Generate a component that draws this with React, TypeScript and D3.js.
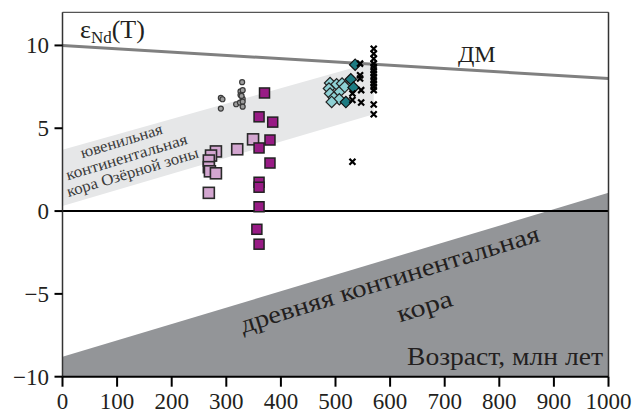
import React from "react";
import * as d3 from "d3";

// axis ranges and ticks
const xDomain = [0, 1000];
const yDomain = [-10, 12];
const xTicks = [0, 100, 200, 300, 400, 500, 600, 700, 800, 900, 1000];
const yTicks = [-10, -5, 0, 5, 10];

// reference fields
const dmLine = [[0, 10], [1000, 8]];
const ancientCrust = [[0, -8.8], [1000, 1.1]];
const juvenileTop = [[0, 3.7], [570, 9.0]];
const juvenileBottom = [[0, 0.3], [570, 5.85]];

// samples: [age, eNd]
const grayCircles = [
  [290, 6.83], [293, 6.75], [290, 6.19], [329, 7.78], [326, 7.22], [330, 7.3],
  [326, 7.0], [330, 6.77], [318, 6.45], [325, 6.55], [330, 6.6], [330, 6.3], [328, 6.95],
];
const purpleSquares = [
  [370, 7.13], [360, 5.69], [385, 5.37], [380, 4.29], [360, 3.81], [380, 2.9],
  [360, 1.74], [360, 1.44], [360, 0.26], [356, -1.1], [360, -2.0],
];
const pinkSquares = [
  [281, 3.6], [272, 3.35], [268, 3.05], [268, 2.65], [270, 2.4], [281, 2.28],
  [268, 1.1], [320, 3.73], [349, 4.33],
];
const lightDiamonds = [
  [490, 7.73], [488, 7.4], [502, 7.65], [512, 7.7], [507, 7.19], [490, 7.1],
  [497, 6.86], [507, 6.75], [493, 6.59], [517, 7.5],
];
const darkDiamonds = [[536, 8.84], [528, 7.96], [533, 7.46], [519, 6.58]];
const crosses = [
  [570, 9.8], [570, 9.5], [570, 9.2], [570, 8.9], [570, 8.7], [570, 8.5], [570, 8.3],
  [570, 8.1], [570, 7.9], [570, 7.7], [570, 7.5], [570, 7.3], [570, 6.43], [570, 5.85],
  [545, 8.9], [545, 8.2], [545, 8.0], [547, 7.3], [547, 6.55],
  [531, 7.1], [531, 6.7], [531, 2.98],
];

const serif = "'Liberation Serif', 'Times New Roman', serif";

const App = () => {
  const x = d3.scaleLinear().domain(xDomain).range([62.5, 608.5]);
  const y = d3.scaleLinear().domain(yDomain).range([376.7, 12.3]);
  const line = d3.line<number[]>().x(d => x(d[0])).y(d => y(d[1]));

  const crustPath =
    line(ancientCrust) +
    `L${x(xDomain[1])},${y(yDomain[0])}L${x(xDomain[0])},${y(yDomain[0])}Z`;
  const bandPath = line([...juvenileTop, ...juvenileBottom.slice().reverse()]) + "Z";

  const bandAngle = -16.9;
  const crustAngle = -17.2;

  return (
    <svg width={636} height={415} style={{ position: "absolute", left: 0, top: 0 }}>
      <rect width={636} height={415} fill="#fff" />
      <path d={crustPath} fill="#939598" />
      <path d={bandPath} fill="#e6e7e8" />

      <g fontFamily={serif} fill="#3a3a3a" fontSize={16}>
        <text transform={`translate(123,146) rotate(${bandAngle})`} textAnchor="middle" textLength={85} lengthAdjust="spacingAndGlyphs">ювенильная</text>
        <text transform={`translate(128,162) rotate(${bandAngle})`} textAnchor="middle" textLength={126} lengthAdjust="spacingAndGlyphs">континентальная</text>
        <text transform={`translate(134,177) rotate(${bandAngle})`} textAnchor="middle" textLength={137} lengthAdjust="spacingAndGlyphs">кора Озёрной зоны</text>
      </g>
      <g fontFamily={serif} fill="#231f20" fontSize={25}>
        <text transform={`translate(392,287) rotate(${crustAngle})`} textAnchor="middle" textLength={312} lengthAdjust="spacingAndGlyphs">древняя континентальная</text>
        <text transform={`translate(427,314) rotate(${crustAngle})`} textAnchor="middle" textLength={57} lengthAdjust="spacingAndGlyphs">кора</text>
        <text x={603} y={365} textAnchor="end" fontSize={25} textLength={196} lengthAdjust="spacingAndGlyphs">Возраст, млн лет</text>
      </g>

      <path d={line(dmLine) || ""} stroke="#808080" strokeWidth={3} fill="none" />
      <line x1={x(0)} x2={x(1000)} y1={y(0)} y2={y(0)} stroke="#000" strokeWidth={2} />

      {/* frame */}
      <line x1={x(0)} x2={x(1000)} y1={y(12)} y2={y(12)} stroke="#555" strokeWidth={1.2} />
      <line x1={x(1000)} x2={x(1000)} y1={y(12)} y2={y(-10)} stroke="#333" strokeWidth={1.5} />
      <line x1={x(0)} x2={x(0)} y1={y(12)} y2={y(-10)} stroke="#333" strokeWidth={1.5} />
      <line x1={x(0)} x2={x(1000)} y1={y(-10)} y2={y(-10)} stroke="#000" strokeWidth={2} />

      {yTicks.map(t => (
        <g key={"y" + t}>
          <line x1={x(0) - 8} x2={x(0)} y1={y(t)} y2={y(t)} stroke="#000" strokeWidth={2} />
          <text x={49} y={y(t)} dy="0.35em" textAnchor="end" fontFamily={serif} fontSize={23} fill="#231f20">
            {t < 0 ? "\u2212" + Math.abs(t) : t}
          </text>
        </g>
      ))}
      {xTicks.map(t => (
        <g key={"x" + t}>
          <line x1={x(t)} x2={x(t)} y1={y(-10)} y2={y(-10) + 10} stroke="#000" strokeWidth={2} />
          <text x={x(t)} y={409} textAnchor="middle" fontFamily={serif} fontSize={23} fill="#231f20">{t}</text>
        </g>
      ))}

      <text x={80} y={38} fontFamily={serif} fontSize={26} fill="#231f20">
        ε<tspan fontSize={17} dy={5}>Nd</tspan><tspan dy={-5}>(T)</tspan>
      </text>
      <text x={458} y={62} fontFamily={serif} fontSize={24} fill="#231f20">ДМ</text>

      {grayCircles.map((d, i) => (
        <circle key={"c" + i} cx={x(d[0])} cy={y(d[1])} r={2.5} fill="#9d9d9d" stroke="#3a3a3a" strokeWidth={1.2} />
      ))}
      {pinkSquares.map((d, i) => (
        <rect key={"p" + i} x={x(d[0]) - 5.5} y={y(d[1]) - 5.5} width={11} height={11} fill="#d3a6d0" stroke="#2a2a2a" strokeWidth={1.6} />
      ))}
      {purpleSquares.map((d, i) => (
        <rect key={"m" + i} x={x(d[0]) - 5} y={y(d[1]) - 5} width={10} height={10} fill="#981b85" stroke="#222" strokeWidth={1.5} />
      ))}
      {lightDiamonds.map((d, i) => (
        <rect key={"l" + i} x={-4} y={-4} width={8} height={8}
          transform={`translate(${x(d[0])},${y(d[1])}) rotate(45)`}
          fill="#8ed0d4" stroke="#222" strokeWidth={1.2} />
      ))}
      {darkDiamonds.map((d, i) => (
        <rect key={"d" + i} x={-4} y={-4} width={8} height={8}
          transform={`translate(${x(d[0])},${y(d[1])}) rotate(45)`}
          fill="#1d7b82" stroke="#111" strokeWidth={1.2} />
      ))}
      {crosses.map((d, i) => {
        const cx = x(d[0]);
        const cy = y(d[1]);
        return (
          <path key={"x" + i} d={`M${cx - 3},${cy - 3}L${cx + 3},${cy + 3}M${cx - 3},${cy + 3}L${cx + 3},${cy - 3}`}
            stroke="#000" strokeWidth={2.2} />
        );
      })}
    </svg>
  );
};

export default App;
